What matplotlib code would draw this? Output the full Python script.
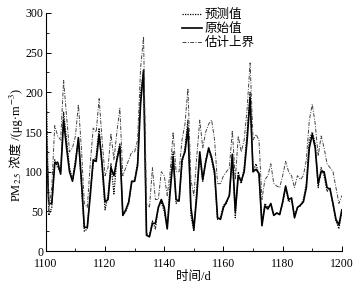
import numpy as np
import matplotlib
matplotlib.use("Agg")
import matplotlib.pyplot as plt
from matplotlib.ticker import MultipleLocator

# ------------------ DATA ------------------

days = list(range(1100, 1201))

original = [150, 60, 60, 110, 112, 97, 165, 130, 100, 88,
            110, 143, 90, 30, 30, 70, 115, 113, 147, 110,
            62, 65, 105, 95, 115, 132, 45, 52, 62, 88,
            88, 108, 185, 228, 20, 18, 35, 35, 55, 65,
            55, 28, 75, 118, 65, 63, 115, 125, 155, 55,
            28, 70, 125, 90, 112, 130, 118, 100, 42, 40,
            55, 62, 70, 122, 50, 95, 88, 100, 140, 193,
            100, 103, 98, 32, 57, 53, 60, 45, 48, 46,
            62, 82, 65, 67, 42, 55, 58, 62, 80, 130,
            147, 130, 85, 100, 100, 80, 78, 60, 40, 33,
            52]

predicted = [230, 45, 55, 115, 105, 100, 175, 140, 105, 90,
             115, 140, 85, 25, 28, 75, 110, 120, 155, 105,
             52, 70, 110, 72, 118, 135, 45, 50, 60, 85,
             90, 112, 200, 225, 22, 20, 38, 28, 55, 62,
             50, 30, 85, 125, 60, 65, 110, 130, 165, 45,
             25, 80, 120, 88, 115, 128, 115, 95, 40, 42,
             58, 60, 72, 120, 42, 100, 85, 105, 150, 200,
             100, 110, 95, 35, 60, 55, 58, 45, 48, 47,
             60, 80, 62, 65, 45, 55, 57, 65, 85, 140,
             150, 135, 80, 105, 95, 75, 80, 58, 38, 28,
             50]

upper = [200, 50, 80, 158, 145, 140, 215, 170, 125, 130,
         145, 185, 130, 60, 55, 110, 155, 150, 192, 140,
         95, 105, 148, 115, 150, 180, 95, 105, 115, 125,
         125, 140, 230, 270, 60, 55, 105, 65, 65, 100,
         95, 70, 100, 150, 100, 100, 140, 160, 205, 90,
         70, 120, 165, 130, 150, 160, 165, 140, 85, 85,
         95, 100, 105, 152, 90, 145, 125, 140, 180, 237,
         140, 147, 140, 65, 90, 95, 110, 85, 82, 80,
         95, 113, 100, 95, 80, 95, 90, 95, 115, 165,
         185, 160, 120, 145, 130, 110, 105, 100, 80, 60,
         70]

labels = ["预测值", "原始值", "估计上界"]

# y label split in pieces: mathtext cannot fall back to a CJK font
ylabel_parts = ["PM$_{2.5}$", " 浓度 /(μg·m", "$^{-3}$)"]

# ------------------ STYLE ------------------

FONTS = ["Liberation Serif", "Noto Sans CJK SC"]
plt.rcParams["font.family"] = FONTS
plt.rcParams["mathtext.fontset"] = "stix"
plt.rcParams["font.size"] = 8

W, H = 361, 287
fig = plt.figure(figsize=(W / 100, H / 100), dpi=100)
ax = fig.add_axes([0.127, 0.125, 0.82, 0.83])

ax.plot(days, predicted, color="black", linestyle=(0, (1, 1)), linewidth=0.9, label=labels[0])
ax.plot(days, original, color="black", linestyle="-", linewidth=1.2, label=labels[1])
ax.plot(days, upper, color="#444444", linestyle=(0, (4, 1.5, 1, 1.5)), linewidth=0.7, label=labels[2])

ax.set_xlim(1100, 1200)
ax.set_ylim(0, 300)
ax.xaxis.set_major_locator(MultipleLocator(20))
ax.xaxis.set_minor_locator(MultipleLocator(10))
ax.yaxis.set_major_locator(MultipleLocator(50))
ax.yaxis.set_minor_locator(MultipleLocator(25))
ax.tick_params(which="both", direction="in", top=False, right=False, labelsize=8.5)
ax.tick_params(axis="x", pad=5)
ax.tick_params(axis="y", pad=2)
ax.tick_params(which="major", length=3.5, width=0.7)
ax.tick_params(which="minor", length=2, width=0.6)

for side in ["top", "right"]:
    ax.spines[side].set_visible(False)
for side in ["left", "bottom"]:
    ax.spines[side].set_linewidth(0.8)

ax.set_xlabel("时间/d", fontsize=9, labelpad=1)

ax.legend(loc="upper left", bbox_to_anchor=(0.455, 1.02), frameon=False, fontsize=9,
          handlelength=1.6, handletextpad=0.25, labelspacing=0.15,
          borderaxespad=0, borderpad=0.1)

# ------------------ Y LABEL ------------------

renderer = fig.canvas.get_renderer()
pieces = []
for part in ylabel_parts:
    t = fig.text(0, 0, part, fontsize=9, rotation=90, rotation_mode="anchor",
                 ha="left", va="baseline")
    pieces.append(t)
lengths = [t.get_window_extent(renderer).height for t in pieces]
base_x = 20.0
pos_y = (H - 145.0) - sum(lengths) / 2
for t, length in zip(pieces, lengths):
    t.set_position((base_x / W, pos_y / H))
    pos_y += length

fig.savefig("out.png", dpi=100)
